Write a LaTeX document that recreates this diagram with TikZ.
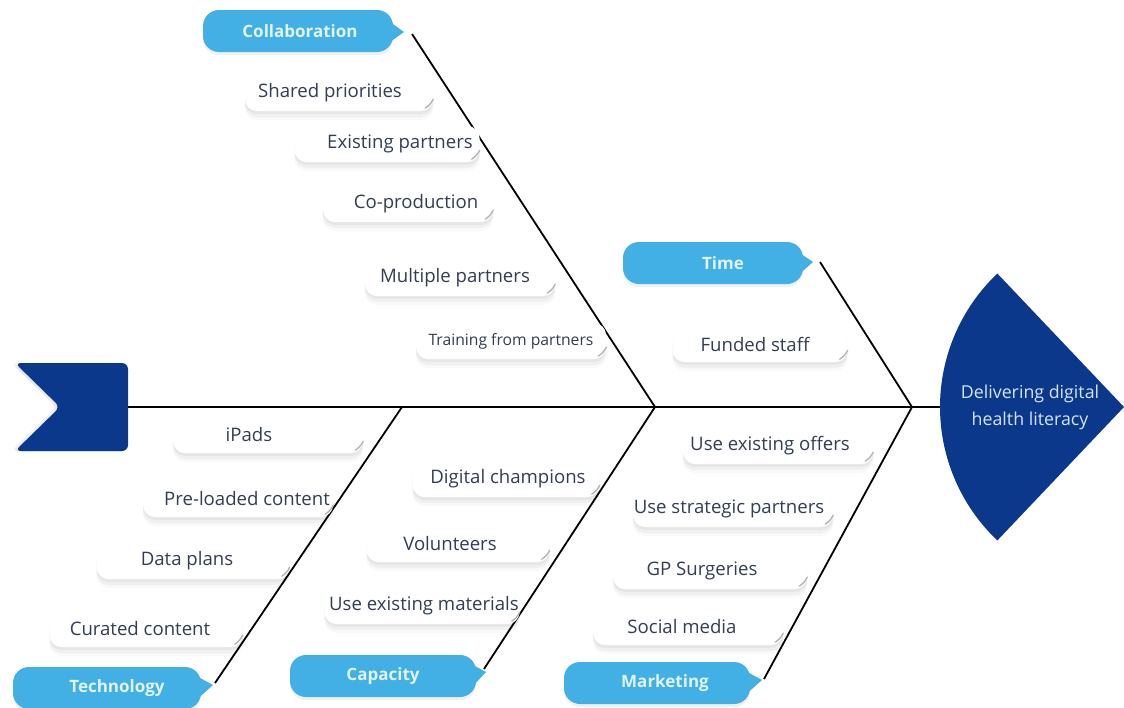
\documentclass[tikz,border=0pt]{standalone}
\usepackage{fontspec}
\setmainfont{Open Sans}
\usetikzlibrary{shadows,calc}
\definecolor{navy}{RGB}{12,56,140}
\definecolor{cblue}{RGB}{66,176,228}
\definecolor{ctext}{RGB}{224,243,251}
\definecolor{ltext}{RGB}{50,62,82}
\definecolor{htext}{RGB}{210,228,246}
\tikzset{
  softshadow/.style={
    drop shadow={opacity=0.025, shadow xshift=0pt, shadow yshift=-9pt, fill=black},
    drop shadow={opacity=0.035, shadow xshift=0pt, shadow yshift=-6pt, fill=black},
    drop shadow={opacity=0.045, shadow xshift=0pt, shadow yshift=-3pt, fill=black}},
  lbl/.style={softshadow, fill=white, rounded corners=12pt, minimum height=36pt, inner sep=0pt},
  lbltext/.style={text=ltext, font=\fontsize{18.6}{21}\selectfont, inner sep=0pt},
  cat/.style={fill=cblue, rounded corners=16pt, minimum height=42pt, text=ctext,
    font=\fontsize{17}{20}\selectfont\bfseries, inner sep=0pt,
    drop shadow={opacity=0.06, shadow xshift=0pt, shadow yshift=-3pt, fill=black}},
  bone/.style={line width=1.8pt, black},
  spineline/.style={line width=2.6pt, black},
  tailgray/.style={black!30, line width=1.3pt, line cap=round},
}
\newcommand\pointer[2]{\fill[cblue] ($(#1.east)+(-14,-17)$) -- (#2) -- ($(#1.east)+(-6,13)$) -- cycle;}
\begin{document}
\begin{tikzpicture}[x=1pt,y=-1pt]
\useasboundingbox (0,0) rectangle (1124,707);

% tail
\fill[navy, rounded corners=6pt,
  drop shadow={opacity=0.05, shadow xshift=-4pt, shadow yshift=0pt, fill=black},
  drop shadow={opacity=0.05, shadow xshift=-2pt, shadow yshift=-1pt, fill=black}]
  (15,363) -- (128,363) -- (128,451) -- (15,451) -- (60,407) -- cycle;
\coordinate (tailE) at (128,407);

% head
\coordinate (headC) at (1124,407);
\fill[navy] (headC) -- ++(133.5:184) arc[start angle=133.5, end angle=226.5, radius=184] -- cycle;
\coordinate (headW) at (940,407);
\node[text=htext, font=\fontsize{17.8}{27}\selectfont, align=center] (head) at (1030,407)
  {Delivering digital\\health literacy};

% junctions
\coordinate (j1) at (402,407);
\coordinate (j2) at (655,407);
\coordinate (j3) at (912,407);

% branch ends
\coordinate (collabEnd) at (412,34);
\coordinate (timeEnd) at (820,262);
\coordinate (techEnd) at (215,683);
\coordinate (capEnd) at (484,669);
\coordinate (markEnd) at (764,679);

% lines
\draw[spineline] (tailE) -- (headW);
\draw[bone] (collabEnd) -- (j2);
\draw[bone] (timeEnd) -- (j3);
\draw[bone] (techEnd) -- (j1);
\draw[bone] (capEnd) -- (j2);
\draw[bone] (markEnd) -- (j3);

% categories
\node[cat, minimum width=190pt] (collab) at (298,31) {\hspace*{4pt}Collaboration};
\pointer{collab}{404,32}
\node[cat, minimum width=180pt] (time) at (713,263) {\hspace*{20pt}Time};
\pointer{time}{813,262}
\node[cat, minimum width=188pt] (tech) at (107,688) {\hspace*{20pt}Technology};
\pointer{tech}{213,685}
\node[cat, minimum width=186pt] (cap) at (383,676) {Capacity};
\pointer{cap}{486,672}
\node[cat, minimum width=186pt] (mark) at (657,683) {\hspace*{16pt}Marketing};
\pointer{mark}{762,680}

% labels
\node[lbl, minimum width=188pt, label={[lbltext, xshift=-9pt]center:Shared priorities}] (l1) at (339,93) {};
\node[lbl, minimum width=185pt, label={[lbltext, xshift=13pt]center:Existing partners}] (l2) at (387,144) {};
\node[lbl, minimum width=170pt, label={[lbltext, xshift=8pt]center:Co-production}] (l3) at (408,204) {};
\node[lbl, minimum width=190pt, label={[lbltext, xshift=-5pt]center:Multiple partners}] (l4) at (460,278) {};
\node[lbl, minimum width=190pt, label={[lbltext, font=\fontsize{15.7}{18}\selectfont]center:Training from partners}] (l5) at (511,341) {};
\node[lbl, minimum width=175pt, label={[lbltext, xshift=-5pt]center:Funded staff}] (l6) at (760,344) {};
\node[lbl, minimum width=190pt, label={[lbltext, xshift=-19pt]center:iPads}] (l7) at (268,435) {};
\node[lbl, minimum width=190pt, label={[lbltext, xshift=9pt]center:Pre-loaded content}] (l8) at (238,499) {};
\node[lbl, minimum width=193pt, label={[lbltext, xshift=-6pt]center:Data plans}] (l9) at (193,561) {};
\node[lbl, minimum width=193pt, label={[lbltext, xshift=-6pt]center:Curated content}] (l10) at (146,629) {};
\node[lbl, minimum width=187pt, label={[lbltext, xshift=2pt]center:Digital champions}] (l11) at (506,479) {};
\node[lbl, minimum width=183pt, label={[lbltext, xshift=-8pt]center:Volunteers}] (l12) at (458,544) {};
\node[lbl, minimum width=195pt, label={[lbltext, xshift=2pt]center:Use existing materials}] (l13) at (422,606) {};
\node[lbl, minimum width=190pt, label={[lbltext, xshift=-8pt]center:Use existing offers}] (l14) at (778,446) {};
\node[lbl, minimum width=200pt, label={[lbltext, xshift=-4pt]center:Use strategic partners}] (l15) at (733,509) {};
\node[lbl, minimum width=194pt, label={[lbltext, xshift=-8pt]center:GP Surgeries}] (l16) at (710,571) {};
\node[lbl, minimum width=190pt, label={[lbltext, xshift=-6pt]center:Social media}] (l17) at (688,627) {};

% small bubble tails on the labels
\foreach \n in {l1,l2,l3,l4,l5,l6,l7,l8,l9,l10,l11,l12,l13,l14,l15,l16,l17}
  \draw[tailgray] ($(\n.south east)+(-8,-3)$) to[bend right=15] ($(\n.south east)+(0,-12)$);
\end{tikzpicture}
\end{document}
